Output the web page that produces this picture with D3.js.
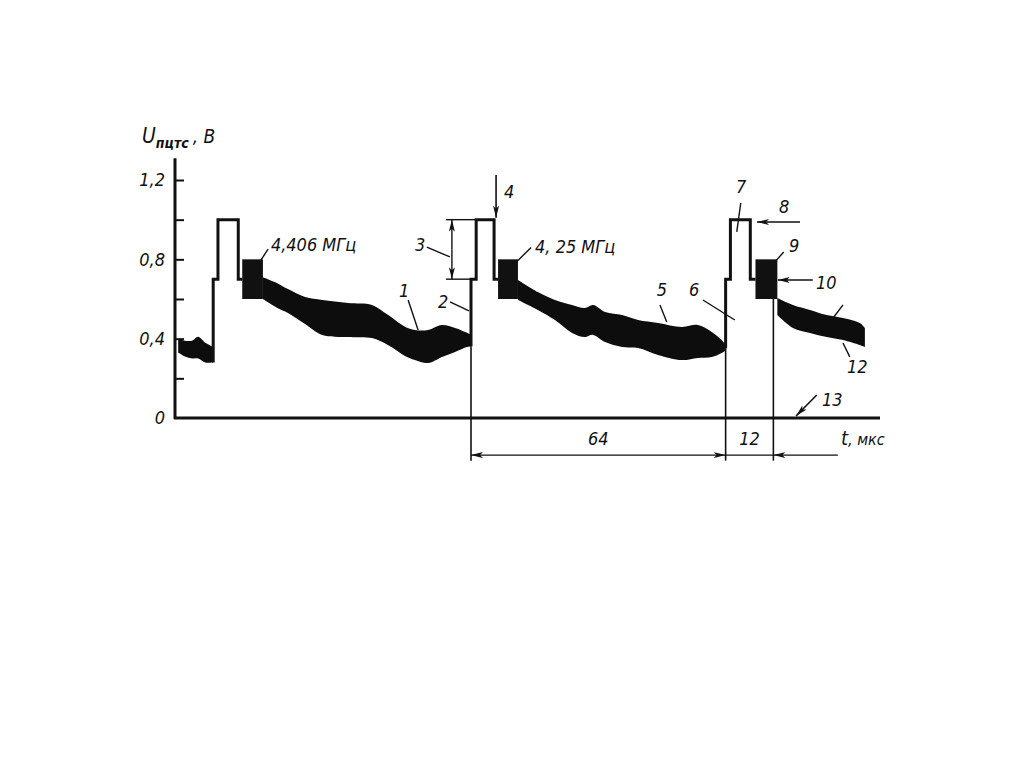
<!DOCTYPE html>
<html>
<head>
<meta charset="utf-8">
<script src="https://cdn.jsdelivr.net/npm/d3@7"></script>
<style>
  body { margin: 0; background: #fff; }
  text { font-family: "Liberation Sans Narrow", "DejaVu Sans Condensed", "Liberation Sans", sans-serif; font-style: italic; fill: #111; }
</style>
</head>
<body>
<div id="chart"></div>
<script>
// time axis in мкс (0 = leading edge of line 2), voltage in В

// noisy video band before the first sync pulse
var bandT0 = [-73.6, -71.9, -70.1, -68.6, -66.8, -65.1, -64.8];
var bandHi0 = [0.40, 0.39, 0.39, 0.41, 0.38, 0.36, 0.34];
var bandLo0 = [0.33, 0.31, 0.30, 0.30, 0.28, 0.28, 0.28];

// band after the 4,406 MHz burst (line 1)
var bandT1 = [-52.3, -48.7, -46.0, -41.7, -37.4, -30.9, -24.9, -20.9, -16.6, -14.1, -10.8, -7.3, -4.0, -1.0, 0];
var bandHi1 = [0.71, 0.68, 0.65, 0.61, 0.595, 0.58, 0.57, 0.52, 0.46, 0.444, 0.444, 0.469, 0.454, 0.43, 0.42];
var bandLo1 = [0.60, 0.555, 0.53, 0.474, 0.419, 0.408, 0.403, 0.368, 0.313, 0.292, 0.277, 0.308, 0.333, 0.358, 0.36];

// band after the 4,25 MHz burst (line 2)
var bandT2 = [11.8, 16.8, 21.1, 25.4, 28.6, 30.7, 33.7, 38.0, 42.0, 47.0, 53.0, 57.0, 60.5, 63.0, 64];
var bandHi2 = [0.696, 0.635, 0.595, 0.57, 0.555, 0.57, 0.535, 0.519, 0.494, 0.479, 0.459, 0.469, 0.434, 0.393, 0.37];
var bandLo2 = [0.595, 0.545, 0.494, 0.429, 0.408, 0.419, 0.383, 0.358, 0.353, 0.318, 0.292, 0.303, 0.308, 0.328, 0.34];

// band after the third burst
var bandT3 = [77.0, 80.9, 85.2, 89.4, 93.5, 97.7, 99.0];
var bandHi3 = [0.605, 0.57, 0.545, 0.519, 0.504, 0.479, 0.454];
var bandLo3 = [0.519, 0.454, 0.429, 0.408, 0.393, 0.368, 0.358];

// sync pulses: rise to blanking, sync top start, sync end, burst start/end
var syncRise = [-64.8, 0, 64];
var syncStartV = [0.28, 0.36, 0.35];
var syncTop = [-63.6, 1.3, 65.2];
var syncFall = [-58.5, 5.8, 70.2];
var burstStart = [-57.5, 6.8, 71.5];
var burstEnd = [-52.3, 11.8, 77.0];
var blankLevel = 0.7, syncLevel = 1.0, burstHigh = 0.8, burstLow = 0.6;

// y axis
var yTicks = [0.2, 0.4, 0.6, 0.8, 1.0, 1.2];
var yLabels = [0, 0.4, 0.8, 1.2];

// time marks for the dimension lines
var markT = [0, 64, 76];
var markV = [0.36, 0.35, 0.6];

var width = 1024, height = 768;

var x = d3.scaleLinear().domain([-74.4, 102.8]).range([175, 880]);
var y = d3.scaleLinear().domain([0, 1.2]).range([418, 180]);

var svg = d3.select("#chart")
    .append("svg")
    .attr("width", width)
    .attr("height", height);

// arrow head
svg.append("defs").append("marker")
    .attr("id", "arr")
    .attr("markerUnits", "userSpaceOnUse")
    .attr("viewBox", "0 0 12 6")
    .attr("markerWidth", 12)
    .attr("markerHeight", 6)
    .attr("refX", 12)
    .attr("refY", 3)
    .attr("orient", "auto-start-reverse")
    .append("path")
    .attr("d", "M0,0 L12,3 L0,6 L3,3 Z")
    .attr("fill", "#111");

// axes
var xMin = x.domain()[0], xMax = x.domain()[1];

svg.append("g")
    .attr("transform", "translate(" + x(xMin) + ",0)")
    .call(d3.axisRight(y).tickValues(yTicks).tickSize(9).tickFormat(""))
    .call(function(g) { g.select(".domain").remove(); })
    .selectAll("line").attr("stroke", "#111").attr("stroke-width", 2);

svg.append("g")
    .attr("transform", "translate(" + x(xMin) + ",0)")
    .call(d3.axisLeft(y).tickValues(yLabels).tickSize(0).tickPadding(10)
        .tickFormat(function(d) { return d === 0 ? "0" : d3.format(".1f")(d).replace(".", ","); }))
    .call(function(g) { g.select(".domain").remove(); })
    .selectAll("text").style("font-size", "18px");

svg.append("line")
    .attr("x1", x(xMin)).attr("x2", x(xMin))
    .attr("y1", y(0) + 1).attr("y2", y(1.31))
    .attr("stroke", "#111").attr("stroke-width", 3);

svg.append("line")
    .attr("x1", x(xMin) - 1).attr("x2", x(xMax))
    .attr("y1", y(0)).attr("y2", y(0))
    .attr("stroke", "#111").attr("stroke-width", 3);

// axis titles
var yTitle = svg.append("text").attr("x", 142).attr("y", 143).style("font-size", "21px");
yTitle.append("tspan").text("U");
yTitle.append("tspan").attr("dy", 5).style("font-size", "14px").style("font-weight", "bold").text("пцтс");
yTitle.append("tspan").attr("dy", -5).attr("dx", 4).style("font-size", "19px").text(", В");

var xTitle = svg.append("text").attr("x", x(93)).attr("y", y(-0.136)).style("font-size", "20px");
xTitle.append("tspan").text("t");
xTitle.append("tspan").style("font-size", "16px").text(", мкс");

// noisy bands
var area = d3.area()
    .x(function(d) { return x(d.t); })
    .y0(function(d) { return y(d.lo); })
    .y1(function(d) { return y(d.hi); })
    .curve(d3.curveCatmullRom);

[[bandT0, bandHi0, bandLo0], [bandT1, bandHi1, bandLo1], [bandT2, bandHi2, bandLo2], [bandT3, bandHi3, bandLo3]]
    .forEach(function(b) {
        var pts = b[0].map(function(t, i) { return {t: t, hi: b[1][i], lo: b[2][i]}; });
        svg.append("path")
            .datum(pts)
            .attr("d", area)
            .attr("fill", "#0d0d0d");
    });

// color bursts
syncRise.forEach(function(r, i) {
    svg.append("rect")
        .attr("x", x(burstStart[i]))
        .attr("y", y(burstHigh))
        .attr("width", x(burstEnd[i]) - x(burstStart[i]))
        .attr("height", y(burstLow) - y(burstHigh))
        .attr("fill", "#111");
});

// sync pulses
var line = d3.line()
    .x(function(d) { return x(d[0]); })
    .y(function(d) { return y(d[1]); });

syncRise.forEach(function(r, i) {
    var pts = [
        [r, syncStartV[i]], [r, blankLevel],
        [syncTop[i], blankLevel], [syncTop[i], syncLevel],
        [syncFall[i], syncLevel], [syncFall[i], blankLevel],
        [burstStart[i], blankLevel]
    ];
    svg.append("path")
        .datum(pts)
        .attr("d", line)
        .attr("fill", "none")
        .attr("stroke", "#111")
        .attr("stroke-width", 3)
        .attr("stroke-linejoin", "miter");
});

// extension lines down to the dimension line
var dimV = -0.187;
markT.forEach(function(t, i) {
    svg.append("line")
        .attr("x1", x(t)).attr("x2", x(t))
        .attr("y1", y(markV[i])).attr("y2", y(-0.215))
        .attr("stroke", "#111").attr("stroke-width", 1.6);
});

function seg(t1, v1, t2, v2, w) {
    return svg.append("line")
        .attr("x1", x(t1)).attr("y1", y(v1))
        .attr("x2", x(t2)).attr("y2", y(v2))
        .attr("stroke", "#111").attr("stroke-width", w || 1.4);
}

function label(t, v, s, anchor) {
    return svg.append("text")
        .attr("x", x(t)).attr("y", y(v))
        .attr("text-anchor", anchor || "start")
        .style("font-size", "18px")
        .text(s);
}

// dimension lines 64 / 12
seg(markT[0], dimV, markT[1], dimV).attr("marker-start", "url(#arr)").attr("marker-end", "url(#arr)");
seg(markT[1], dimV, markT[2], dimV);
seg(92.2, dimV, markT[2], dimV).attr("marker-end", "url(#arr)");
label((markT[0] + markT[1]) / 2, -0.136, "64", "middle");
label((markT[1] + markT[2]) / 2, -0.136, "12", "middle");

// blanking/sync difference (3)
seg(-6.3, syncLevel, syncTop[1], syncLevel);
seg(-6.3, blankLevel, syncRise[1], blankLevel);
seg(-4.8, (syncLevel + blankLevel) / 2, -4.8, syncLevel).attr("marker-end", "url(#arr)");
seg(-4.8, (syncLevel + blankLevel) / 2, -4.8, blankLevel).attr("marker-end", "url(#arr)");

// arrows
seg(6.3, 1.225, 6.3, 1.01, 1.6).attr("marker-end", "url(#arr)");
seg(82.7, 0.988, 71.9, 0.988, 1.6).attr("marker-end", "url(#arr)");
seg(85.9, 0.696, 77.1, 0.696, 1.6).attr("marker-end", "url(#arr)");
seg(86.9, 0.116, 81.7, 0.01, 1.6).attr("marker-end", "url(#arr)");

// leader lines
seg(-53.0, 0.79, -51.0, 0.852);
seg(11.6, 0.79, 15.1, 0.86);
seg(-15.8, 0.595, -13.3, 0.444);
seg(-5.3, 0.585, -0.5, 0.54);
seg(-11.1, 0.862, -5.3, 0.812);
seg(47.5, 0.57, 49.2, 0.484);
seg(58.3, 0.595, 66.3, 0.494);
seg(67.8, 1.084, 66.8, 0.938);
seg(76.4, 0.787, 78.6, 0.837);
seg(95.2, 0.308, 93.5, 0.378);
seg(91.0, 0.504, 93.5, 0.57);

// labels
label(-50.3, 0.84, "4,406 МГц");
label(16.1, 0.83, "4, 25 МГц");
label(-18.1, 0.61, "1");
label(-8.3, 0.555, "2");
label(-14.1, 0.84, "3");
label(8.3, 1.11, "4");
label(46.7, 0.615, "5");
label(54.8, 0.615, "6");
label(66.6, 1.135, "7");
label(77.4, 1.034, "8");
label(79.9, 0.837, "9");
label(86.7, 0.65, "10");
label(94.5, 0.227, "12");
label(88.2, 0.06, "13");
</script>
</body>
</html>
